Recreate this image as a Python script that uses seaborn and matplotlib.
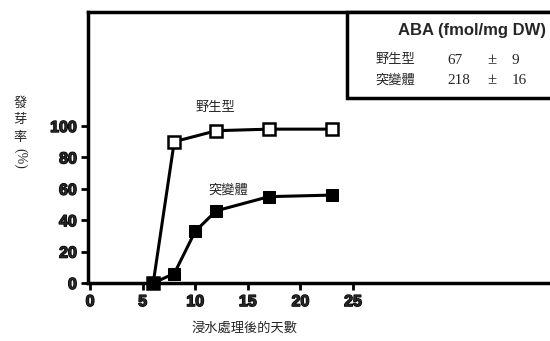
import matplotlib
matplotlib.use("Agg")
import matplotlib.pyplot as plt
import matplotlib.patheffects as pe
import seaborn as sns
import pandas as pd
from matplotlib.patches import Rectangle

sns.set_style("ticks")
plt.rcParams['font.family'] = ['Liberation Sans', 'Noto Sans CJK TC', 'DejaVu Sans']

# data
wt_days = [6, 8, 12, 17, 23]
wt_rate = [0, 90, 97, 98, 98]
mut_days = [6, 8, 10, 12, 17, 23]
mut_rate = [0, 6, 33, 46, 55, 56]
x_ticks = [0, 5, 10, 15, 20, 25]
y_ticks = [0, 20, 40, 60, 80, 100]
series_names = ["野生型", "突變體"]
aba_mean = [67, 218]
aba_err = [9, 16]

df = pd.concat([
    pd.DataFrame({"day": wt_days, "rate": wt_rate, "type": series_names[0]}),
    pd.DataFrame({"day": mut_days, "rate": mut_rate, "type": series_names[1]}),
])

fig = plt.figure(figsize=(5.5, 3.41), dpi=100)
ax = fig.add_axes([88/550, 1-283/341, (600-88)/550, (283-12)/341])

sns.lineplot(data=df[df["type"] == series_names[0]], x="day", y="rate", ax=ax,
             color="black", linewidth=2.2, marker="s", markersize=8,
             markerfacecolor="white", markeredgecolor="black", markeredgewidth=1.8,
             clip_on=False, zorder=3)
sns.lineplot(data=df[df["type"] == series_names[1]], x="day", y="rate", ax=ax,
             color="black", linewidth=2.2, marker="s", markersize=9,
             markerfacecolor="black", markeredgecolor="black",
             clip_on=False, zorder=4)

ax.set_xlim(-0.2, (600-90)/10.52)
ax.set_ylim(0, (283-12)/1.57)
ax.set_xticks(x_ticks)
ax.set_yticks(y_ticks)
heavy = [pe.withStroke(linewidth=1.0, foreground="black")]
ax.set_xticklabels([str(v) for v in x_ticks], fontweight="bold", fontsize=11.5)
ax.set_yticklabels([str(v) for v in y_ticks], fontweight="bold", fontsize=11.5)
for t in ax.get_xticklabels() + ax.get_yticklabels():
    t.set_path_effects(heavy)
ax.tick_params(direction="out", length=5, width=2, color="black", pad=3)
for s in ["left", "bottom", "top", "right"]:
    ax.spines[s].set_linewidth(2.5)
    ax.spines[s].set_color("black")
ax.set_xlabel("")
ax.set_ylabel("")
ax.grid(False)

# series labels
ax.text(11.9, 112, series_names[0], ha="center", va="center", fontsize=9.5,
        family=["Noto Sans CJK TC"])
ax.text(13.1, 59, series_names[1], ha="center", va="center", fontsize=9.5,
        family=["Noto Sans CJK TC"])

# legend / table box
box = Rectangle((347/550, 1-98/341), (600-347)/550, (98-12)/341,
                transform=fig.transFigure, fill=True, facecolor="white",
                edgecolor="black", linewidth=2.5, clip_on=False, zorder=10)
fig.patches.append(box)
fig.text(472/550, 1-30/341, "ABA (fmol/mg DW)", ha="center", va="center",
         fontsize=12, fontweight="bold", zorder=11)
for i, (name, m, e) in enumerate(zip(series_names, aba_mean, aba_err)):
    yy = 1 - (60 + 20*i)/341
    fig.text(395/550, yy, name, ha="center", va="center", fontsize=9.5,
             family=["Noto Sans CJK TC"], zorder=11)
    fig.text(447/550, yy, str(m), ha="left", va="center", fontsize=11,
             family=["Liberation Serif"], zorder=11)
    fig.text(492/550, yy, "±", ha="center", va="center", fontsize=12,
             family=["Liberation Serif"], zorder=11)
    fig.text(512/550, yy, str(e), ha="left", va="center", fontsize=11,
             family=["Liberation Serif"], zorder=11)

# y label: stacked characters
for ch, py in zip(["發", "芽", "率"], [103, 120, 137]):
    fig.text(20/550, 1-py/341, ch, ha="center", va="center", fontsize=9.5,
             family=["Noto Sans CJK TC"])
fig.text(20/550, 1-158/341, "(%)", ha="center", va="center", fontsize=10,
         rotation=-90, family=["Liberation Serif"])

# x label
fig.text(245/550, 1-328/341, "浸水處理後的天數", ha="center", va="center",
         fontsize=9.5, family=["Noto Sans CJK TC"])

fig.savefig("out.png", dpi=100)
